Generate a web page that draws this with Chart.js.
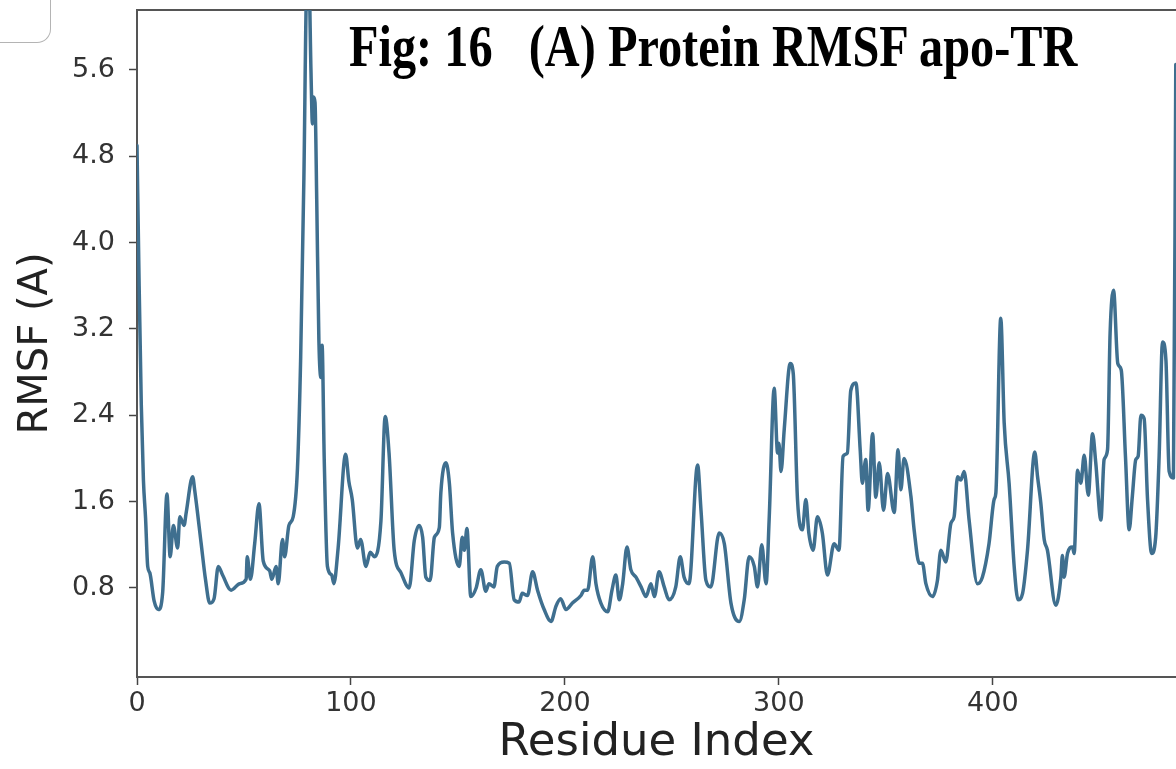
<!DOCTYPE html>
<html>
<head>
<meta charset="utf-8">
<title>Protein RMSF apo-TR</title>
<script src="https://cdn.jsdelivr.net/npm/chart.js@4"></script>
<style>
  html, body { margin: 0; padding: 0; background: #fff; }
  #wrap { position: relative; width: 1176px; height: 769px; overflow: hidden; }
  #fig-title {
    position: absolute; left: 349px; top: 16px;
    font-family: "Liberation Serif", "Times New Roman", serif;
    font-weight: bold; font-size: 60px; line-height: 60px; color: #000;
    white-space: pre; transform: scaleX(0.805); transform-origin: 0 0;
  }
  #corner {
    position: absolute; left: -2px; top: -2px; width: 52px; height: 44px;
    border-right: 1px solid #b4b4b4; border-bottom: 1px solid #b4b4b4;
    border-bottom-right-radius: 14px;
  }
</style>
</head>
<body>
<div id="wrap">
  <canvas id="rmsf-chart" width="1176" height="769"></canvas>
  <div id="corner"></div>
  <div id="fig-title">Fig: 16   (A) Protein RMSF apo-TR</div>
</div>
<script>
// residue positions and RMSF
const residueIndex = [
  0, 1, 2, 3, 4, 5, 6, 8, 10, 12, 14, 15.5, 17, 19, 20, 22, 23, 26, 27, 30,
  32, 34, 36, 38, 40, 44, 48, 51, 51.5, 53, 55, 57, 59, 62, 63, 65, 66, 68, 69, 71,
  73, 75, 76.5, 78, 79.3, 80.3, 81.3, 82, 82.5, 83.2, 84, 85, 86, 86.5, 87.5, 89, 91, 92, 94, 97.5,
  99, 100.6, 103, 104.5, 107, 109, 111, 114, 116, 117.8, 120.2, 123.4, 127.2, 129.6, 131.9, 133.5, 135, 137, 139, 141.3,
  142, 144.4, 146, 147.5, 150.6, 152, 153, 154.2, 156, 158.5, 160.7, 163, 164.5, 166.8, 168.4, 171.6, 174, 176.3, 178.6, 180,
  182.5, 184.9, 187.2, 190.3, 193.5, 195.8, 198, 200.5, 203.5, 207.5, 209, 210.6, 213, 214.5, 216.8, 220, 222, 223.8, 225.4, 227,
  229, 230.8, 233.2, 235.6, 237.9, 240.2, 241.8, 244, 246.4, 248.7, 251.8, 253.9, 255.7, 258, 262, 263.6, 265.9, 268.2, 272.1, 274.5,
  277.6, 281.5, 283.8, 286.1, 288.5, 290, 292, 294, 295.5, 297.8, 299.4, 300, 301, 302.5, 305.3, 306.7, 308.7, 311, 312.6, 314,
  316, 318, 320.3, 322.7, 325.8, 328.1, 330, 332, 333.6, 336, 338, 339, 340.6, 341.7, 343.8, 345.3, 346.9, 348.9, 350.8, 353.9,
  355.7, 357, 358.5, 361.7, 363.2, 365.6, 367.1, 368.7, 371.8, 374.1, 375.7, 378, 380.4, 381.9, 383.5, 385, 386.6, 388.9, 392.8, 395.1,
  398.2, 400.6, 401.4, 403.7, 405.3, 407.6, 410, 411.8, 413.9, 416.2, 419.6, 420.9, 422.4, 424, 425.5, 429.4, 431.8, 432.5, 433.3, 434.9,
  437.2, 438, 439.6, 441.1, 442.7, 444.6, 446.6, 448.1, 450.5, 452, 453.6, 454.8, 456.4, 458.4, 460, 462, 463.7, 465.2, 466.8, 467.9,
  469.2, 470.7, 472.3, 474.2, 476.1, 477.7, 479.3, 480.9, 482.4, 484.4, 485.5
];
const rmsfValues = [
  4.9, 3.6, 2.5, 1.8, 1.45, 1.0, 0.94, 0.68, 0.6, 0.76, 1.67, 1.09, 1.38, 1.17, 1.46, 1.38, 1.5, 1.83, 1.7, 1.21,
  0.88, 0.66, 0.7, 1.0, 0.92, 0.78, 0.84, 0.88, 1.09, 0.88, 1.21, 1.58, 1.05, 0.96, 0.88, 1.0, 0.84, 1.25, 1.09, 1.38,
  1.46, 1.91, 2.94, 4.6, 6.4, 6.5, 5.6, 5.1, 5.35, 5.3, 4.4, 3.1, 2.75, 3.05, 2.0, 1.0, 0.92, 0.84, 1.17, 2.04,
  1.79, 1.62, 1.17, 1.25, 1.0, 1.13, 1.09, 1.42, 2.39, 2.05, 1.15, 0.94, 0.8, 1.24, 1.38, 1.27, 0.9, 0.87, 1.27, 1.36,
  1.68, 1.96, 1.77, 1.31, 1.0, 1.27, 1.15, 1.35, 0.72, 0.8, 0.97, 0.77, 0.84, 0.81, 1.0, 1.04, 1.03, 0.69, 0.67, 0.75,
  0.73, 0.95, 0.78, 0.6, 0.49, 0.63, 0.7, 0.6, 0.66, 0.73, 0.78, 0.78, 1.09, 0.84, 0.66, 0.58, 0.78, 0.92, 0.69, 0.84,
  1.18, 0.97, 0.9, 0.81, 0.72, 0.84, 0.72, 0.95, 0.81, 0.69, 0.81, 1.09, 0.9, 0.84, 1.94, 1.52, 0.87, 0.81, 1.31, 1.21,
  0.66, 0.49, 0.69, 1.09, 1.0, 0.81, 1.2, 0.84, 1.46, 2.65, 2.05, 2.14, 1.88, 2.27, 2.88, 2.79, 1.62, 1.34, 1.62, 1.31,
  1.15, 1.46, 1.31, 0.92, 1.21, 1.15, 2.02, 2.05, 2.63, 2.7, 2.08, 1.77, 1.99, 1.52, 2.23, 1.64, 1.96, 1.52, 1.86, 1.5,
  2.08, 1.71, 2.0, 1.65, 1.34, 1.03, 1.03, 0.84, 0.72, 0.87, 1.15, 1.04, 1.4, 1.46, 1.83, 1.8, 1.88, 1.43, 0.84, 0.9,
  1.21, 1.62, 1.68, 3.3, 2.33, 1.77, 0.99, 0.69, 0.75, 1.15, 2.06, 1.83, 1.59, 1.25, 1.15, 0.64, 0.9, 1.1, 0.9, 1.12,
  1.18, 1.12, 1.89, 1.77, 2.03, 1.66, 2.23, 1.96, 1.43, 1.99, 2.08, 3.16, 3.56, 2.88, 2.82, 2.01, 1.34, 1.65, 1.99, 2.02,
  2.4, 2.37, 1.62, 1.12, 1.27, 2.01, 3.08, 2.91, 1.88, 1.82, 5.65
];
const xTicks = [0, 100, 200, 300, 400];
const yTicks = [0.8, 1.6, 2.4, 3.2, 4.0, 4.8, 5.6];

const points = residueIndex.map((r, i) => ({ x: r, y: rmsfValues[i] }));

// matplotlib style top spine
const topSpine = {
  id: "topSpine",
  beforeDatasetsDraw(chart) {
    const { ctx, chartArea } = chart;
    ctx.save();
    ctx.strokeStyle = "#555";
    ctx.lineWidth = 2;
    ctx.beginPath();
    ctx.moveTo(chartArea.left - 1, chartArea.top);
    ctx.lineTo(chartArea.right, chartArea.top);
    ctx.stroke();
    ctx.restore();
  }
};

const tickFont = { family: "'DejaVu Sans', sans-serif", size: 27 };

new Chart(document.getElementById("rmsf-chart"), {
  type: "line",
  data: {
    datasets: [{
      data: points,
      borderColor: "#3f6f8f",
      borderWidth: 3.5,
      borderJoinStyle: "round",
      borderCapStyle: "round",
      cubicInterpolationMode: "monotone",
      pointRadius: 0,
      fill: false
    }]
  },
  options: {
    responsive: false,
    animation: false,
    layout: { padding: { top: 10, left: 0, right: 0, bottom: 0 } },
    plugins: { legend: { display: false }, tooltip: { enabled: false } },
    scales: {
      x: {
        type: "linear",
        min: 0,
        max: 485.6,
        afterBuildTicks: (axis) => { axis.ticks = xTicks.map((v) => ({ value: v })); },
        afterFit: (s) => { s.height = 92; s.paddingLeft = 0; s.paddingRight = 0; },
        ticks: { font: tickFont, color: "#333", padding: 3, maxRotation: 0, autoSkip: false },
        grid: { drawOnChartArea: false, drawTicks: true, tickLength: 8, tickWidth: 1.5, color: "#444" },
        border: { color: "#555", width: 2 },
        title: {
          display: true,
          text: "Residue Index",
          color: "#222",
          font: { family: "'DejaVu Sans', sans-serif", size: 45, lineHeight: 1 },
          padding: { top: 0, bottom: 3 }
        }
      },
      y: {
        min: -0.025,
        max: 6.156,
        afterBuildTicks: (axis) => { axis.ticks = yTicks.map((v) => ({ value: v })); },
        afterFit: (s) => { s.width = 137; s.paddingTop = 0; s.paddingBottom = 0; },
        ticks: { font: tickFont, color: "#333", padding: 14, callback: (v) => Number(v).toFixed(1) },
        grid: { drawOnChartArea: false, drawTicks: true, tickLength: 8, tickWidth: 1.5, color: "#444" },
        border: { color: "#555", width: 2 },
        title: {
          display: true,
          text: "RMSF (A)",
          color: "#222",
          font: { family: "'DejaVu Sans', sans-serif", size: 40, lineHeight: 1 },
          padding: { top: 17, bottom: 0 }
        }
      }
    }
  },
  plugins: [topSpine]
});
</script>
</body>
</html>
